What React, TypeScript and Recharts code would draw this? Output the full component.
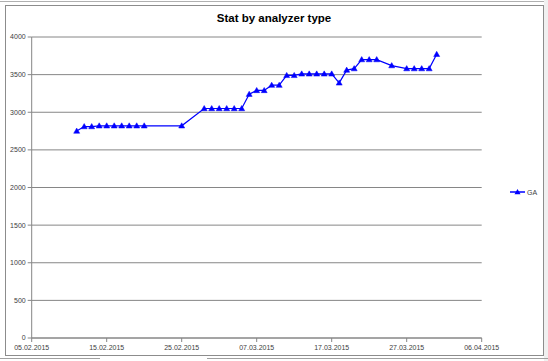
import React from 'react';
import { LineChart, Line, XAxis, YAxis, CartesianGrid, Legend } from 'recharts';

const dates = [
  '11.02.2015', '12.02.2015', '13.02.2015', '14.02.2015', '15.02.2015', '16.02.2015',
  '17.02.2015', '18.02.2015', '19.02.2015', '20.02.2015', '25.02.2015', '28.02.2015',
  '01.03.2015', '02.03.2015', '03.03.2015', '04.03.2015', '05.03.2015', '06.03.2015',
  '07.03.2015', '08.03.2015', '09.03.2015', '10.03.2015', '11.03.2015', '12.03.2015',
  '13.03.2015', '14.03.2015', '15.03.2015', '16.03.2015', '17.03.2015', '18.03.2015',
  '19.03.2015', '20.03.2015', '21.03.2015', '22.03.2015', '23.03.2015', '25.03.2015',
  '27.03.2015', '28.03.2015', '29.03.2015', '30.03.2015', '31.03.2015',
];

const gaValues = [
  2750, 2810, 2810, 2820, 2820, 2820,
  2820, 2820, 2820, 2820, 2820, 3050,
  3050, 3050, 3050, 3050, 3050, 3240,
  3290, 3290, 3360, 3360, 3490, 3490,
  3510, 3510, 3510, 3510, 3510, 3390,
  3560, 3580, 3700, 3700, 3700, 3620,
  3580, 3580, 3580, 3580, 3770,
];

const xTickLabels = [
  '05.02.2015', '15.02.2015', '25.02.2015', '07.03.2015', '17.03.2015', '27.03.2015', '06.04.2015',
];

const yTicks = [0, 500, 1000, 1500, 2000, 2500, 3000, 3500, 4000];

const seriesName = 'GA';
const title = 'Stat by analyzer type';

function dayNum(s: string): number {
  const [d, m, y] = s.split('.').map(Number);
  return Math.round(Date.UTC(y, m - 1, d) / 86400000);
}

const data = dates.map((d, i) => ({ t: dayNum(d), ga: gaValues[i] }));
const xTicks = xTickLabels.map(dayNum);
const labelByDay: Record<number, string> = {};
xTickLabels.forEach((l) => { labelByDay[dayNum(l)] = l; });

const BLUE = '#0000FF';
const GRID = '#868686';
const TEXT = '#404040';
const FONT = 'Liberation Sans, Arial, sans-serif';

const Triangle = (props: any) => {
  const { cx, cy } = props;
  if (cx == null || cy == null) return null;
  return (
    <polygon
      points={`${cx - 3},${cy + 2.2} ${cx + 3},${cy + 2.2} ${cx},${cy - 3}`}
      fill={BLUE}
      stroke={BLUE}
      strokeWidth={0.5}
    />
  );
};

const LegendContent = () => (
  <svg width={40} height={12} style={{ display: 'block' }}>
    <line x1={0} y1={6} x2={15} y2={6} stroke={BLUE} strokeWidth={1.5} />
    <polygon points={`${7.5 - 3},${6 + 2.2} ${7.5 + 3},${6 + 2.2} ${7.5},${6 - 3}`} fill={BLUE} />
    <text x={17} y={8.5} fontSize={7} fill={TEXT} fontFamily={FONT}>
      {seriesName}
    </text>
  </svg>
);

export default function App() {
  return (
    <div style={{ position: 'absolute', left: 0, top: 0, width: 548, height: 361, background: '#ffffff', overflow: 'hidden' }}>
      <div style={{ position: 'absolute', left: 0, top: 1, width: 548, height: 1, background: '#b0b0b0' }} />
      <div style={{ position: 'absolute', left: 544, top: 0, width: 4, height: 361, background: '#f0f0f0' }} />
      <div style={{ position: 'absolute', left: 0, top: 358, width: 100, height: 1, background: '#a0a0a0' }} />
      <div style={{ position: 'absolute', left: 207, top: 358, width: 341, height: 1, background: '#a0a0a0' }} />
      <div
        style={{
          position: 'absolute', left: 5, top: 5, width: 537, height: 349,
          border: '1px solid #8c8c8c', background: '#ffffff',
        }}
      />
      <div
        style={{
          position: 'absolute', left: 0, top: 12, width: 548, textAlign: 'center',
          fontFamily: FONT, fontWeight: 'bold', fontSize: 11.5, color: '#000',
        }}
      >
        {title}
      </div>
      <div style={{ position: 'absolute', left: 0, top: 0 }}>
        <LineChart
          width={548}
          height={361}
          data={data}
          margin={{ top: 37, right: 66.3, bottom: 0, left: 0 }}
        >
          <CartesianGrid horizontal vertical={false} stroke={GRID} strokeWidth={1} />
          <XAxis
            dataKey="t"
            type="number"
            domain={[xTicks[0], xTicks[xTicks.length - 1]]}
            ticks={xTicks}
            tickFormatter={(v: number) => labelByDay[v] ?? ''}
            interval={0}
            height={23}
            stroke={GRID}
            tickSize={4}
            tickMargin={3}
            tick={{ fontSize: 7, fill: TEXT, fontFamily: FONT }}
            allowDataOverflow
          />
          <YAxis
            type="number"
            domain={[0, 4000]}
            ticks={yTicks}
            interval={0}
            width={31.7}
            stroke={GRID}
            tickSize={4}
            tickMargin={2}
            tick={{ fontSize: 7, fill: TEXT, fontFamily: FONT }}
          />
          <Legend
            verticalAlign="middle"
            align="center"
            layout="vertical"
            content={LegendContent}
            wrapperStyle={{ position: 'absolute', left: 510, top: 186, width: 40 }}
          />
          <Line
            type="linear"
            dataKey="ga"
            name={seriesName}
            stroke={BLUE}
            strokeWidth={1.2}
            dot={<Triangle />}
            activeDot={false}
            isAnimationActive={false}
          />
        </LineChart>
      </div>
    </div>
  );
}
